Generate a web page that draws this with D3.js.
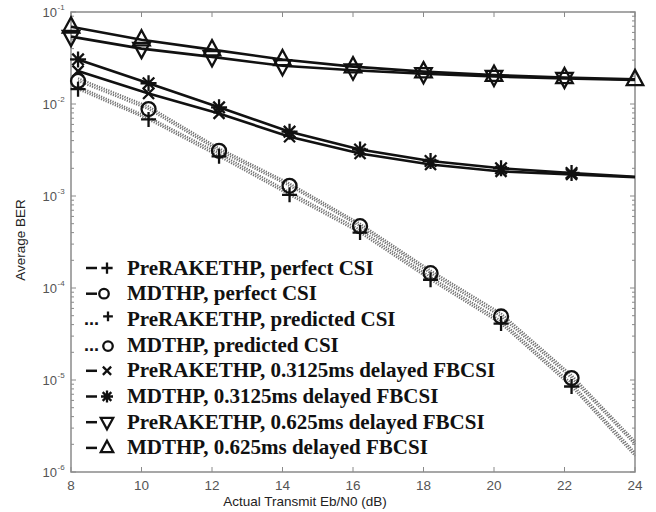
<!DOCTYPE html>
<html>
<head>
<meta charset="utf-8">
<script src="https://cdn.jsdelivr.net/npm/d3@7"></script>
<style>
  body { margin: 0; background: #fff; }
  svg { display: block; }
</style>
</head>
<body>
<div id="chart"></div>
<script>
(function() {
'use strict';

// Eb/N0 points (dB)
const ebnoA = [8, 10, 12, 14, 16, 18, 20, 22, 24];
const ebnoB = [8.2, 10.2, 12.2, 14.2, 16.2, 18.2, 20.2, 22.2, 24];

// average BER values
const berPreRakePerfect   = [0.0145, 0.0068, 0.0027, 0.00103, 0.00040, 0.000123, 4.1e-5, 8.5e-6, 1.5e-6];
const berMdthpPerfect     = [0.0178, 0.0088, 0.0031, 0.00129, 0.00047, 0.000145, 4.9e-5, 1.05e-5, 2.0e-6];
const berPreRakePredicted = [0.0155, 0.0072, 0.0029, 0.00110, 0.00043, 0.000132, 4.4e-5, 9.2e-6, 1.62e-6];
const berMdthpPredicted   = [0.0190, 0.0094, 0.0033, 0.00137, 0.00050, 0.000155, 5.3e-5, 1.13e-5, 2.15e-6];
const berPreRakeDelay1    = [0.0228, 0.0130, 0.0079, 0.0044, 0.0029, 0.0022, 0.00185, 0.00172, 0.0016];
const berMdthpDelay1      = [0.0305, 0.0168, 0.0092, 0.0050, 0.0032, 0.0024, 0.0020, 0.00178, 0.00162];
const berPreRakeDelay2    = [0.054, 0.040, 0.0325, 0.026, 0.0233, 0.0213, 0.0199, 0.0189, 0.0182];
const berMdthpDelay2      = [0.069, 0.050, 0.039, 0.0305, 0.0255, 0.0225, 0.0206, 0.0194, 0.0185];

const legendLabels = [
  'PreRAKETHP, perfect CSI',
  'MDTHP, perfect CSI',
  'PreRAKETHP, predicted CSI',
  'MDTHP, predicted CSI',
  'PreRAKETHP, 0.3125ms delayed FBCSI',
  'MDTHP, 0.3125ms delayed FBCSI',
  'PreRAKETHP, 0.625ms delayed FBCSI',
  'MDTHP, 0.625ms delayed FBCSI'
];

const xTicks = [8, 10, 12, 14, 16, 18, 20, 22, 24];
const yTicks = [1e-6, 1e-5, 1e-4, 1e-3, 1e-2, 1e-1];

const W = 656;
const H = 512;
const LEFT = 71, RIGHT = 635, TOP = 12, BOTTOM = 472;

// series: x, y, marker, dotted?, how many leading points get a marker
const series = [
  { x: ebnoB, y: berPreRakePredicted, mark: null,   dotted: true,  n: 0 },
  { x: ebnoB, y: berMdthpPredicted,   mark: null,   dotted: true,  n: 0 },
  { x: ebnoB, y: berPreRakePerfect,   mark: 'plus', dotted: true,  n: 8 },
  { x: ebnoB, y: berMdthpPerfect,     mark: 'circ', dotted: true,  n: 8 },
  { x: ebnoB, y: berPreRakeDelay1,    mark: 'x',    dotted: false, n: 8 },
  { x: ebnoB, y: berMdthpDelay1,      mark: 'star', dotted: false, n: 8 },
  { x: ebnoA, y: berPreRakeDelay2,    mark: 'down', dotted: false, n: 8 },
  { x: ebnoA, y: berMdthpDelay2,      mark: 'up',   dotted: false, n: 9 }
];

const legendMarks = ['plus', 'circ', 'plus', 'circ', 'x', 'star', 'down', 'up'];

const xScale = d3.scaleLinear().domain([8, 24]).range([LEFT, RIGHT]);
const yScale = d3.scaleLog().domain([1e-6, 1e-1]).range([BOTTOM, TOP]);

const svg = d3.select('#chart')
  .append('svg')
    .attr('width', W)
    .attr('height', H);

svg.append('rect')
  .attr('width', W).attr('height', H).attr('fill', '#fff');

// minor log ticks
const minor = [];
for (let e = -6; e < -1; e++) {
  for (let k = 2; k <= 9; k++) minor.push(k * Math.pow(10, e));
}

const axisCol = '#8a8a8a';
const gAx = svg.append('g');

minor.forEach(function(v) {
  const y = yScale(v);
  gAx.append('line').attr('x1', LEFT).attr('x2', LEFT + 3).attr('y1', y).attr('y2', y)
    .attr('stroke', axisCol).attr('stroke-width', 1);
  gAx.append('line').attr('x1', RIGHT).attr('x2', RIGHT - 3).attr('y1', y).attr('y2', y)
    .attr('stroke', axisCol).attr('stroke-width', 1);
});

yTicks.forEach(function(v) {
  const y = yScale(v);
  gAx.append('line').attr('x1', LEFT).attr('x2', LEFT + 5).attr('y1', y).attr('y2', y)
    .attr('stroke', axisCol).attr('stroke-width', 1);
  gAx.append('line').attr('x1', RIGHT).attr('x2', RIGHT - 5).attr('y1', y).attr('y2', y)
    .attr('stroke', axisCol).attr('stroke-width', 1);
  gAx.append('text')
    .attr('x', 57).attr('y', y + 5)
    .attr('text-anchor', 'end')
    .attr('font-family', 'Liberation Sans, Arial, sans-serif')
    .attr('font-size', 13)
    .attr('fill', '#555')
    .text('10');
  gAx.append('text')
    .attr('x', 57.5).attr('y', y - 2)
    .attr('font-family', 'Liberation Sans, Arial, sans-serif')
    .attr('font-size', 8)
    .attr('fill', '#555')
    .text(String(Math.round(Math.log10(v))));
});

xTicks.forEach(function(v) {
  const x = xScale(v);
  gAx.append('line').attr('x1', x).attr('x2', x).attr('y1', BOTTOM).attr('y2', BOTTOM - 5)
    .attr('stroke', axisCol).attr('stroke-width', 1);
  gAx.append('line').attr('x1', x).attr('x2', x).attr('y1', TOP).attr('y2', TOP + 5)
    .attr('stroke', axisCol).attr('stroke-width', 1);
  gAx.append('text')
    .attr('x', x).attr('y', 490)
    .attr('text-anchor', 'middle')
    .attr('font-family', 'Liberation Sans, Arial, sans-serif')
    .attr('font-size', 13.5)
    .attr('fill', '#555')
    .text(v);
});

gAx.append('rect')
  .attr('x', LEFT).attr('y', TOP)
  .attr('width', RIGHT - LEFT).attr('height', BOTTOM - TOP)
  .attr('fill', 'none').attr('stroke', axisCol).attr('stroke-width', 1.5);

svg.append('text')
  .attr('x', 305).attr('y', 506)
  .attr('text-anchor', 'middle')
  .attr('font-family', 'Liberation Sans, Arial, sans-serif')
  .attr('font-size', 13.5)
  .attr('fill', '#222')
  .text('Actual Transmit Eb/N0 (dB)');

svg.append('text')
  .attr('transform', 'translate(25, 240) rotate(-90)')
  .attr('text-anchor', 'middle')
  .attr('font-family', 'Liberation Sans, Arial, sans-serif')
  .attr('font-size', 13.5)
  .attr('fill', '#222')
  .text('Average BER');

// curves
const line = d3.line()
  .x((d) => xScale(d[0]))
  .y((d) => yScale(d[1]));

const gLines = svg.append('g');
series.forEach(function(s) {
  const pts = s.x.map((x, i) => [x, s.y[i]]);
  gLines.append('path')
    .datum(pts)
    .attr('d', line)
    .attr('fill', 'none')
    .attr('stroke', s.dotted ? '#707070' : '#111')
    .attr('stroke-width', s.dotted ? 2.2 : 2.6)
    .attr('stroke-dasharray', s.dotted ? '1.2,1.3' : null);
});

function drawMark(g, type, x, y, sc) {
  sc = sc || 1;
  const st = '#111';
  if (type === 'circ') {
    g.append('circle').attr('cx', x).attr('cy', y).attr('r', 7 * sc)
      .attr('fill', 'none').attr('stroke', st).attr('stroke-width', 2.3);
  } else if (type === 'plus') {
    const r = 7.5 * sc;
    g.append('path').attr('d', `M${x - r},${y}H${x + r}M${x},${y - r}V${y + r}`)
      .attr('stroke', st).attr('stroke-width', 2.3);
  } else if (type === 'x') {
    const r = 5.5 * sc;
    g.append('path').attr('d', `M${x - r},${y - r}L${x + r},${y + r}M${x - r},${y + r}L${x + r},${y - r}`)
      .attr('stroke', st).attr('stroke-width', 2.3);
  } else if (type === 'star') {
    const r = 8 * sc, q = r * 0.72;
    g.append('path').attr('d', `M${x - r},${y}H${x + r}M${x},${y - r}V${y + r}M${x - q},${y - q}L${x + q},${y + q}M${x - q},${y + q}L${x + q},${y - q}`)
      .attr('stroke', st).attr('stroke-width', 2.3);
  } else if (type === 'up' || type === 'down') {
    const r = 9.5 * sc, s = type === 'up' ? 1 : -1;
    g.append('path')
      .attr('d', `M${x},${y - s * r}L${x + r * 0.87},${y + s * r * 0.6}L${x - r * 0.87},${y + s * r * 0.6}Z`)
      .attr('fill', 'none').attr('stroke', st).attr('stroke-width', 2.3);
  }
}

const gMarks = svg.append('g');
series.forEach(function(s) {
  for (let i = 0; i < s.n; i++) {
    drawMark(gMarks, s.mark, xScale(s.x[i]), yScale(s.y[i]));
  }
});

// legend
const gLeg = svg.append('g');
legendLabels.forEach(function(lab, i) {
  const y = 268 + i * 25.7;
  const dotted = (i === 2 || i === 3);
  if (dotted) {
    gLeg.append('text')
      .attr('x', 84).attr('y', y + 6)
      .attr('font-family', 'Liberation Sans, Arial, sans-serif')
      .attr('font-weight', 'bold')
      .attr('font-size', 18)
      .attr('fill', '#111')
      .text('...');
    if (legendMarks[i] === 'plus') drawMark(gLeg, 'plus', 108, y - 3, 0.65);
    else drawMark(gLeg, 'circ', 108, y + 1, 0.68);
  } else {
    gLeg.append('line').attr('x1', 86).attr('x2', 97).attr('y1', y).attr('y2', y)
      .attr('stroke', '#111').attr('stroke-width', 2.5);
    const m = legendMarks[i];
    drawMark(gLeg, m, m === 'circ' ? 104 : 107, y, m === 'circ' ? 0.68 : 0.75);
  }
  gLeg.append('text')
    .attr('x', 127).attr('y', y + 6.5)
    .attr('font-family', 'Liberation Serif, Times New Roman, serif')
    .attr('font-weight', 'bold')
    .attr('font-size', 21)
    .attr('fill', '#111')
    .text(lab);
});

})();
</script>
</body>
</html>
